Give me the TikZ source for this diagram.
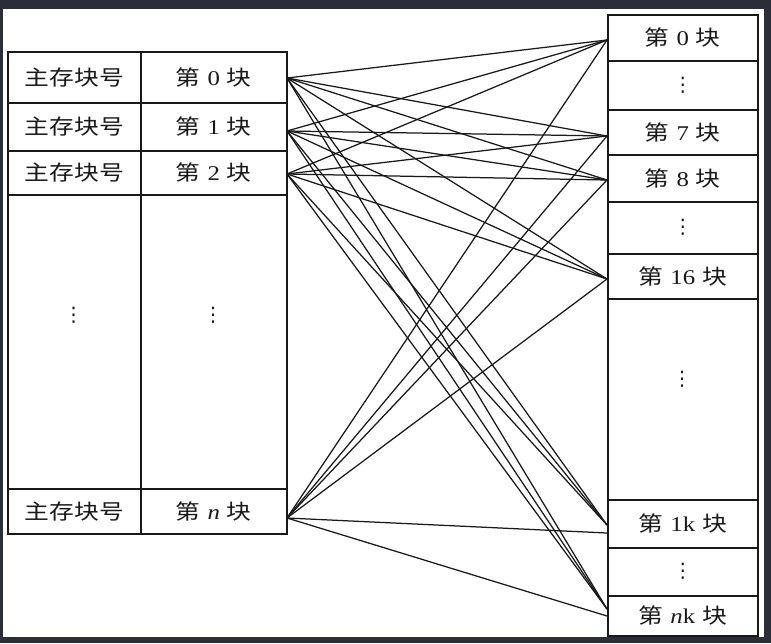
\documentclass[tikz,border=0pt]{standalone}
\usepackage{fontspec}
\usepackage{graphicx}
\setmainfont{Liberation Serif}
\newfontfamily\cjk{Noto Sans CJK SC}
\newfontfamily\symf{DejaVu Sans}
\newcommand\wide[1]{\scalebox{1.18}[1]{#1}}
\newcommand\blk[1]{\wide{{\cjk 第}\hspace{0.28em}#1\hspace{0.28em}{\cjk 块}}}
\newcommand\zcdots{{\symf\fontsize{20}{20}\selectfont ⋮}}
\definecolor{linec}{RGB}{25,25,25}
\definecolor{framec}{RGB}{42,46,56}
\tikzset{
  cell/.style={draw=linec, line width=1.5pt, inner sep=0pt, anchor=north west,
    font=\fontsize{21}{21}\selectfont, text=linec},
  lcell/.style={cell, minimum width=133pt},
  mcell/.style={cell, minimum width=146pt},
  rcell/.style={cell, minimum width=150pt},
  dotn/.style={inner sep=0pt, text=linec},
  conn/.style={draw=linec, line width=1.25pt},
}
\begin{document}
\begin{tikzpicture}[x=1pt, y=-1pt]
\useasboundingbox (0,0) rectangle (771,643);
\fill[framec] (0,0) rectangle (771,643);
\fill[white] (3,9) rectangle (764,637);

% left table
\node[lcell, minimum height=51pt] (a0) at (7,51) {\wide{\cjk 主存块号}};
\node[mcell, minimum height=51pt] (b0) at (140,51) {\blk{0}};
\node[lcell, minimum height=48pt] (a1) at (7,102) {\wide{\cjk 主存块号}};
\node[mcell, minimum height=48pt] (b1) at (140,102) {\blk{1}};
\node[lcell, minimum height=44pt] (a2) at (7,150) {\wide{\cjk 主存块号}};
\node[mcell, minimum height=44pt] (b2) at (140,150) {\blk{2}};
\node[lcell, minimum height=294pt] (ad) at (7,194) {};
\node[mcell, minimum height=294pt] (bd) at (140,194) {};
\node[lcell, minimum height=45pt] (an) at (7,488) {\wide{\cjk 主存块号}};
\node[mcell, minimum height=45pt] (bn) at (140,488) {\blk{\textit{n}}};
\node[dotn] (adots) at (73.5,315) {\zcdots};
\node[dotn] (bdots) at (213,315) {\zcdots};

% right table
\node[rcell, minimum height=46pt] (r0) at (607,14) {\blk{0}};
\node[rcell, minimum height=49pt] (rd1) at (607,60) {\zcdots};
\node[rcell, minimum height=45pt] (r7) at (607,109) {\blk{7}};
\node[rcell, minimum height=47pt] (r8) at (607,154) {\blk{8}};
\node[rcell, minimum height=52pt] (rd2) at (607,201) {\zcdots};
\node[rcell, minimum height=45pt] (r16) at (607,253) {\blk{16}};
\node[rcell, minimum height=201pt] (rd3) at (607,298) {};
\node[dotn] (rdots) at (682,379) {\zcdots};
\node[rcell, minimum height=48pt] (r1k) at (607,499) {\blk{1k}};
\node[rcell, minimum height=48pt] (rd4) at (607,547) {\zcdots};
\node[rcell, minimum height=40pt] (rnk) at (607,595) {\blk{\textit{n}k}};

% connector end points
\coordinate (s0) at (287,78);
\coordinate (s1) at (287,131);
\coordinate (s2) at (287,174);
\coordinate (sn) at (287,518);
\coordinate (t0) at (607,40);
\coordinate (t7) at (607,136);
\coordinate (t8) at (607,180);
\coordinate (t16) at (607,279);
\coordinate (t1k) at (607,525);
\coordinate (tnk) at (607,609);
\coordinate (u1k) at (607,533);
\coordinate (unk) at (607,616);

\foreach \s in {s0,s1,s2}{
  \foreach \t in {t0,t7,t8,t16,t1k,tnk}{
    \draw[conn] (\s) -- (\t);
  }
}
\foreach \t in {t0,t7,t8,t16,u1k,unk}{
  \draw[conn] (sn) -- (\t);
}
\end{tikzpicture}
\end{document}
